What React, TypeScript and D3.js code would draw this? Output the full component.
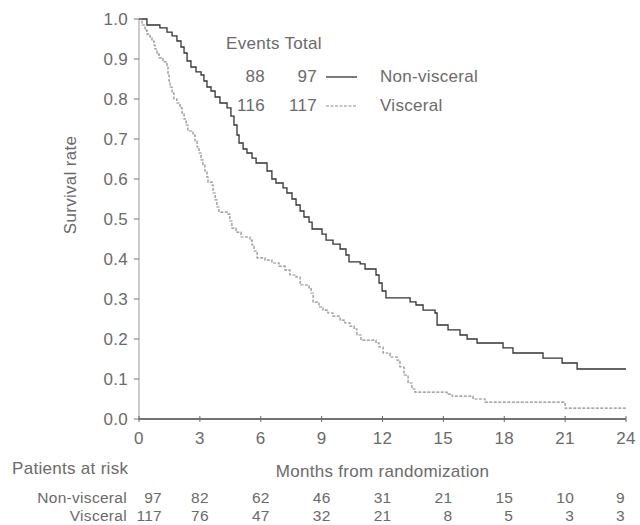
import React from 'react';
import * as d3 from 'd3';

// survival steps: [month, survival after the drop]
const nonVisceralSteps: [number, number][] = [
  [0, 1], [0.39, 0.985], [1.03, 0.978], [1.38, 0.967], [1.63, 0.958], [1.87, 0.945],
  [2.07, 0.93], [2.22, 0.915], [2.37, 0.895], [2.56, 0.88], [2.81, 0.868], [3.06, 0.86],
  [3.2, 0.845], [3.35, 0.83], [3.55, 0.82], [3.75, 0.805], [3.99, 0.79], [4.34, 0.778],
  [4.53, 0.757], [4.68, 0.735], [4.83, 0.71], [4.93, 0.69], [5.13, 0.675], [5.32, 0.665],
  [5.57, 0.652], [5.77, 0.64], [6.31, 0.62], [6.55, 0.6], [6.75, 0.59], [7.1, 0.578],
  [7.29, 0.565], [7.54, 0.55], [7.74, 0.535], [7.94, 0.52], [8.13, 0.505], [8.38, 0.492],
  [8.53, 0.475], [9.02, 0.462], [9.22, 0.447], [9.56, 0.437], [9.91, 0.425], [10.2, 0.41],
  [10.35, 0.393], [10.9, 0.388], [11.14, 0.375], [11.68, 0.36], [11.83, 0.34], [11.98, 0.32],
  [12.17, 0.303], [13.36, 0.293], [13.65, 0.285], [14.0, 0.272], [14.59, 0.265], [14.69, 0.235],
  [15.23, 0.223], [15.82, 0.21], [16.17, 0.2], [16.66, 0.19], [17.94, 0.178], [18.43, 0.165],
  [19.91, 0.152], [20.85, 0.14], [21.59, 0.125], [24, 0.125],
];

const visceralSteps: [number, number][] = [
  [0, 1], [0.15, 0.985], [0.3, 0.972], [0.39, 0.962], [0.54, 0.955], [0.64, 0.945],
  [0.74, 0.935], [0.79, 0.925], [0.89, 0.912], [0.99, 0.903], [1.18, 0.893], [1.38, 0.88],
  [1.43, 0.86], [1.48, 0.845], [1.53, 0.83], [1.63, 0.815], [1.72, 0.8], [1.87, 0.79],
  [2.02, 0.778], [2.12, 0.765], [2.22, 0.75], [2.32, 0.735], [2.41, 0.72], [2.66, 0.71],
  [2.76, 0.695], [2.86, 0.68], [2.96, 0.665], [3.06, 0.648], [3.15, 0.635], [3.25, 0.62],
  [3.35, 0.605], [3.4, 0.592], [3.6, 0.585], [3.65, 0.565], [3.75, 0.548], [3.84, 0.53],
  [3.94, 0.517], [4.39, 0.512], [4.48, 0.495], [4.58, 0.477], [4.78, 0.467], [5.03, 0.455],
  [5.47, 0.447], [5.57, 0.435], [5.67, 0.42], [5.82, 0.403], [6.21, 0.397], [6.55, 0.39],
  [6.9, 0.382], [7.2, 0.372], [7.44, 0.36], [7.74, 0.355], [7.94, 0.335], [8.38, 0.328],
  [8.48, 0.315], [8.58, 0.292], [8.87, 0.28], [9.07, 0.272], [9.31, 0.265], [9.56, 0.257],
  [9.91, 0.247], [10.15, 0.24], [10.4, 0.232], [10.6, 0.225], [10.74, 0.21], [10.94, 0.197],
  [11.68, 0.19], [11.83, 0.18], [12.03, 0.165], [12.37, 0.155], [12.72, 0.147], [12.86, 0.13],
  [13.06, 0.11], [13.26, 0.09], [13.45, 0.075], [13.6, 0.067], [15.18, 0.062], [15.43, 0.057],
  [16.46, 0.05], [17.05, 0.042], [21.0, 0.027], [24, 0.025],
];

const xTicks = [0, 3, 6, 9, 12, 15, 18, 21, 24];
const yTicks = [0, 0.1, 0.2, 0.3, 0.4, 0.5, 0.6, 0.7, 0.8, 0.9, 1.0];

const groups = ['Non-visceral', 'Visceral'];
const events = [88, 116];
const totals = [97, 117];
const atRisk = [
  [97, 82, 62, 46, 31, 21, 15, 10, 9],
  [117, 76, 47, 32, 21, 8, 5, 3, 3],
];

const textColor = '#6a6a6a';
const font = '"Liberation Sans", Arial, sans-serif';

export default function App() {
  const x = d3.scaleLinear().domain([0, 24]).range([139, 626]);
  const y = d3.scaleLinear().domain([0, 1]).range([419, 19]);

  const line = d3.line<[number, number]>()
    .x(d => x(d[0]))
    .y(d => y(d[1]))
    .curve(d3.curveStepAfter);

  // small shift of the at-risk numbers against their tick
  const riskShift = (t: number) => (t === 0 ? 23 : t === 24 ? -1 : 9);

  return (
    <svg width={640} height={525} style={{ position: 'absolute', left: 0, top: 0, background: '#fff' }}
      fontFamily={font} fontSize={17} letterSpacing={0.3} fill={textColor}>
      {/* y axis */}
      <line x1={x(0)} x2={x(0)} y1={y(1)} y2={y(0)} stroke="#999" strokeWidth={1} />
      {yTicks.map(t => (
        <g key={t}>
          <line x1={x(0) - 5} x2={x(0)} y1={y(t)} y2={y(t)} stroke="#777" />
          <text x={x(0) - 11} y={y(t)} dy="0.35em" textAnchor="end">{t.toFixed(1)}</text>
        </g>
      ))}
      <text transform={`translate(76, ${185}) rotate(-90)`} textAnchor="middle">Survival rate</text>

      {/* x axis */}
      <line x1={x(0)} x2={x(24)} y1={y(0)} y2={y(0)} stroke="#444" strokeWidth={1.3} />
      {xTicks.map(t => (
        <g key={t}>
          <line x1={x(t)} x2={x(t)} y1={y(0) - 3} y2={y(0) + 3} stroke="#666" />
          <text x={x(t)} y={444} textAnchor="middle">{t}</text>
        </g>
      ))}

      {/* curves */}
      <path d={line(nonVisceralSteps) ?? ''} fill="none" stroke="#333" strokeWidth={1.3} />
      <path d={line(visceralSteps) ?? ''} fill="none" stroke="#8a8a8a" strokeWidth={1.2} strokeDasharray="3 1.5" />

      {/* legend */}
      <text x={226} y={49}>Events Total</text>
      {groups.map((g, i) => (
        <g key={g}>
          <text x={265} y={82 + i * 29} textAnchor="end">{events[i]}</text>
          <text x={317} y={82 + i * 29} textAnchor="end">{totals[i]}</text>
          <line x1={326} x2={357} y1={77 + i * 29} y2={77 + i * 29}
            stroke={i === 0 ? '#333' : '#8a8a8a'} strokeWidth={i === 0 ? 1.3 : 1.2}
            strokeDasharray={i === 0 ? undefined : '3 1.5'} />
          <text x={380} y={82 + i * 29}>{g}</text>
        </g>
      ))}

      {/* patients at risk */}
      <text x={12} y={474}>Patients at risk</text>
      <text x={x(12)} y={477} textAnchor="middle">Months from randomization</text>
      {groups.map((g, i) => (
        <g key={g} fontSize={15.5}>
          <text x={127} y={503 + i * 18} textAnchor="end">{g}</text>
          {atRisk[i].map((n, j) => (
            <text key={j} x={x(xTicks[j]) + riskShift(xTicks[j])} y={503 + i * 18} textAnchor="end">{n}</text>
          ))}
        </g>
      ))}
    </svg>
  );
}
